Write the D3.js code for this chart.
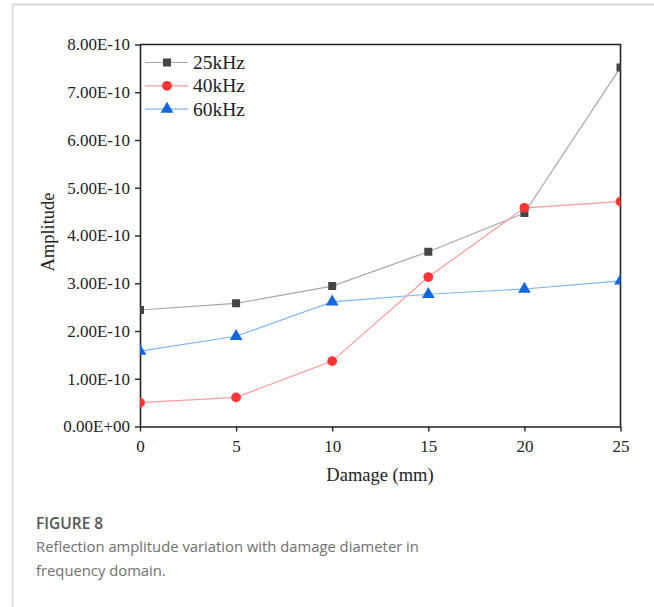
<!DOCTYPE html>
<html>
<head>
<meta charset="utf-8">
<script src="https://cdn.jsdelivr.net/npm/d3@7"></script>
<style>
  body { margin: 0; background: #fff; }
</style>
</head>
<body>
<div id="chart"></div>
<script>
var damage = [0, 5, 10, 15, 20, 25];
var amp25 = [2.44e-10, 2.58e-10, 2.94e-10, 3.66e-10, 4.47e-10, 7.52e-10];
var amp40 = [0.50e-10, 0.61e-10, 1.37e-10, 3.13e-10, 4.58e-10, 4.71e-10];
var amp60 = [1.58e-10, 1.89e-10, 2.61e-10, 2.77e-10, 2.88e-10, 3.05e-10];
var seriesNames = ["25kHz", "40kHz", "60kHz"];
var yTicks = [0, 1e-10, 2e-10, 3e-10, 4e-10, 5e-10, 6e-10, 7e-10, 8e-10];
var xTicks = [0, 5, 10, 15, 20, 25];

var box = { left: 140, right: 620.5, top: 44.5, bottom: 426.5 };
var serif = "'Liberation Serif', 'Times New Roman', serif";
var sans = "'Open Sans', 'Noto Sans', sans-serif";

var svg = d3.select("#chart").append("svg")
  .attr("width", 654)
  .attr("height", 607);

/* card border */
svg.append("line").attr("x1", 12.5).attr("x2", 654).attr("y1", 4.5).attr("y2", 4.5)
  .style("stroke", "#d8d8d8").style("stroke-width", 2);
svg.append("line").attr("x1", 12.5).attr("x2", 12.5).attr("y1", 4.5).attr("y2", 607)
  .style("stroke", "#d8d8d8").style("stroke-width", 1.5);

let x = d3.scaleLinear().domain([0, 25]).range([box.left, box.right]);
let y = d3.scaleLinear().domain([0, 8e-10]).range([box.bottom, box.top]);

svg.append("defs").append("clipPath").attr("id", "plotClip")
  .append("rect")
  .attr("x", box.left).attr("y", box.top)
  .attr("width", box.right - box.left).attr("height", box.bottom - box.top);

/* axes */
let yAxis = svg.append("g")
  .attr("transform", `translate(${box.left}, 0)`)
  .call(d3.axisLeft(y).tickValues(yTicks).tickSize(5).tickSizeOuter(0)
    .tickFormat((d) => d === 0 ? "0.00E+00" : (d / 1e-10).toFixed(2) + "E-10"));
let xAxis = svg.append("g")
  .attr("transform", `translate(0, ${box.bottom})`)
  .call(d3.axisBottom(x).tickValues(xTicks).tickSize(5).tickSizeOuter(0));

[yAxis, xAxis].forEach((g) => {
  g.select(".domain").style("stroke", "#222").style("stroke-width", 1.6);
  g.selectAll(".tick line").style("stroke", "#222").style("stroke-width", 1.4);
  g.selectAll(".tick text")
    .style("font-family", serif)
    .style("font-size", "17px")
    .style("fill", "#222");
});
yAxis.selectAll(".tick text").attr("x", -10);
xAxis.selectAll(".tick text").attr("y", 13);

/* top and right frame */
svg.append("path")
  .attr("d", `M${box.left},${box.top}H${box.right}V${box.bottom}`)
  .style("fill", "none").style("stroke", "#222").style("stroke-width", 1.6);

/* axis titles */
svg.append("text")
  .attr("transform", "translate(54, 232) rotate(-90)")
  .attr("text-anchor", "middle")
  .style("font-family", serif)
  .style("font-size", "18.5px").style("fill", "#222")
  .text("Amplitude");
svg.append("text")
  .attr("x", 380).attr("y", 481)
  .attr("text-anchor", "middle")
  .style("font-family", serif)
  .style("font-size", "18.5px").style("fill", "#222")
  .text("Damage (mm)");

/* series */
let series = [
  { name: seriesNames[0], values: amp25, line: "#a8a8a8", mark: "#454545", symbol: d3.symbolSquare, size: 64 },
  { name: seriesNames[1], values: amp40, line: "#ff9a9a", mark: "#ff3535", symbol: d3.symbolCircle, size: 75 },
  { name: seriesNames[2], values: amp60, line: "#7db6f2", mark: "#1466e0", symbol: d3.symbolTriangle, size: 70 },
];

let plot = svg.append("g").attr("clip-path", "url(#plotClip)");
let line = d3.line().x((d) => x(d[0])).y((d) => y(d[1]));

series.forEach((s) => {
  let pts = damage.map((d, i) => [d, s.values[i]]);
  plot.append("path")
    .datum(pts)
    .attr("d", line)
    .style("fill", "none")
    .style("stroke", s.line)
    .style("stroke-width", 1.2);
});
series.forEach((s) => {
  let pts = damage.map((d, i) => [d, s.values[i]]);
  plot.selectAll(null)
    .data(pts)
    .enter()
    .append("path")
    .attr("d", d3.symbol().type(s.symbol).size(s.size))
    .attr("transform", (d) => `translate(${x(d[0])}, ${y(d[1])})`)
    .style("fill", s.mark);
});

/* legend */
let legend = svg.append("g");
series.forEach((s, i) => {
  let ly = 62.5 + i * 23.3;
  legend.append("line")
    .attr("x1", 145).attr("x2", 188).attr("y1", ly).attr("y2", ly)
    .style("stroke", s.line).style("stroke-width", 1.2);
  legend.append("path")
    .attr("d", d3.symbol().type(s.symbol).size(s.size))
    .attr("transform", `translate(167, ${ly})`)
    .style("fill", s.mark);
  legend.append("text")
    .attr("x", 193).attr("y", ly + 6.5)
    .style("font-family", serif)
    .style("font-size", "19.5px").style("fill", "#222")
    .text(s.name);
});

/* caption */
svg.append("text")
  .attr("x", 36).attr("y", 529)
  .style("font-family", sans)
  .style("font-size", "15.5px").style("font-weight", "600").style("fill", "#555")
  .text("FIGURE 8");
svg.append("text")
  .attr("x", 36).attr("y", 552)
  .style("font-family", sans)
  .style("font-size", "14.8px").style("font-weight", "400").style("fill", "#707070")
  .text("Reflection amplitude variation with damage diameter in");
svg.append("text")
  .attr("x", 36).attr("y", 576)
  .style("font-family", sans)
  .style("font-size", "14.8px").style("font-weight", "400").style("fill", "#707070")
  .text("frequency domain.");
</script>
</body>
</html>
